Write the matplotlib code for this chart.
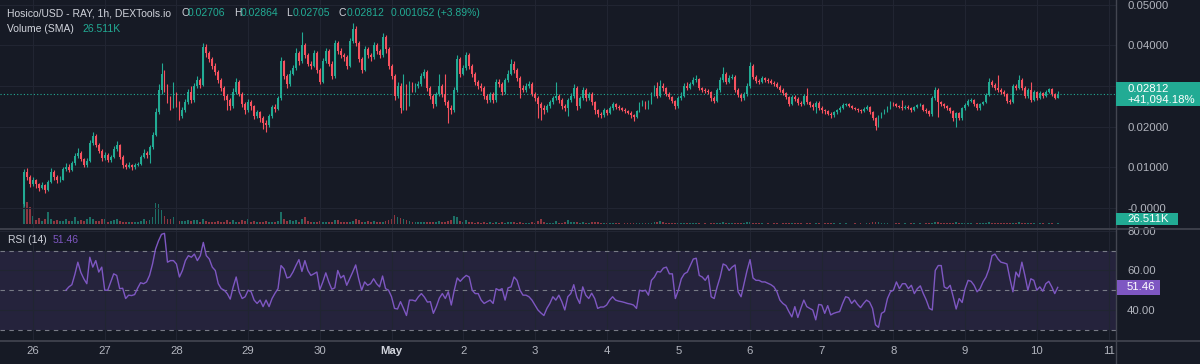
import numpy as np
import matplotlib.pyplot as plt
from matplotlib.patches import Rectangle
from matplotlib.lines import Line2D

# =============================================================================
# Chart data, prices in units of 0.001 USD
# =============================================================================

first_hour = -3          # first candle, hours after 26 Apr 00:00
first_open = 1.0

close = [
    8.8, 7.5, 6.0, 6.8, 5.8, 5.0, 5.6, 4.5, 6.5, 8.8,
    7.6, 6.8, 7.0, 9.5, 10.2, 9.4, 11.0, 12.8, 13.6, 12.0,
    10.5, 11.5, 16.0, 17.8, 15.5, 14.0, 12.2, 13.0, 11.8, 12.5,
    14.5, 15.5, 12.5, 10.5, 10.2, 10.5, 10.0, 10.6, 10.9, 12.5,
    13.5, 13.0, 15.0, 18.0, 23.5, 29.0, 33.0, 30.0, 27.0, 25.0,
    28.0, 26.0, 22.5, 24.0, 26.0, 28.5, 26.5, 30.0, 31.5, 30.2,
    39.5, 38.0, 36.5, 35.0, 33.5, 31.5, 29.5, 27.5, 26.5, 25.0,
    28.5, 31.0, 28.0, 25.5, 24.0, 26.0, 25.0, 22.5, 23.5, 22.0,
    21.0, 20.5, 22.5, 24.8, 24.3, 27.0, 36.0, 32.5, 30.5, 33.0,
    34.5, 38.0, 36.0, 40.0, 37.5, 35.5, 35.0, 38.0, 34.0, 31.0,
    36.0, 38.5, 35.5, 32.5, 40.5, 38.5, 37.5, 37.0, 35.0, 41.0,
    44.0, 40.5, 36.5, 34.0, 39.0, 37.5, 37.0, 40.0, 38.5, 37.5,
    42.0, 39.0, 35.0, 32.5, 27.5, 30.0, 24.5, 30.0, 25.5, 30.5,
    29.0, 30.0, 30.5, 32.5, 33.5, 29.5, 27.5, 25.5, 28.0, 30.0,
    28.0, 26.0, 24.5, 24.0, 29.0, 36.5, 33.0, 34.5, 37.5, 35.0,
    33.0, 31.0, 30.0, 29.5, 27.5, 26.5, 28.0, 26.5, 31.0, 30.5,
    28.5, 31.5, 33.0, 35.5, 34.0, 32.0, 29.5, 29.0, 30.0, 30.5,
    28.0, 27.0, 25.5, 24.5, 24.0, 25.0, 26.0, 27.0, 27.5, 26.5,
    25.0, 24.5, 26.5, 27.5, 29.5, 25.0, 27.0, 29.0, 27.0, 28.0,
    26.0, 24.0, 23.0, 22.8, 24.0, 23.3, 24.5, 25.5, 24.8, 24.5,
    24.2, 23.8, 23.4, 22.8, 22.3, 23.8, 25.5, 26.0, 24.8, 26.0,
    28.0, 29.5, 27.5, 30.0, 29.5, 28.0, 27.3, 26.3, 25.0, 27.0,
    27.5, 30.0, 29.5, 30.5, 31.5, 31.8, 29.5, 29.0, 28.8, 28.5,
    27.0, 26.3, 29.0, 31.5, 33.0, 31.0, 32.0, 32.3, 29.0, 27.8,
    27.0, 28.0, 30.0, 35.0, 32.2, 31.3, 31.0, 32.0, 31.5, 31.2,
    30.8, 30.5, 29.8, 29.0, 28.2, 27.3, 25.5, 27.3, 26.8, 25.8,
    25.5, 27.5, 26.0, 25.3, 24.8, 25.8, 24.6, 24.0, 23.8, 23.2,
    22.8, 23.5, 24.0, 24.6, 25.3, 25.5, 25.0, 24.6, 24.3, 24.0,
    23.8, 24.4, 24.8, 23.6, 22.0, 20.2, 22.5, 23.3, 24.0, 24.6,
    25.8, 25.5, 25.0, 24.8, 24.6, 24.9, 24.6, 24.0, 24.7, 25.2,
    25.4, 24.2, 23.8, 23.0, 27.0, 29.0, 26.0, 25.5, 25.0, 24.6,
    23.8, 22.0, 23.3, 22.0, 24.5, 25.3, 26.3, 26.6, 25.5, 24.5,
    25.5, 26.0, 27.8, 31.0, 30.2, 29.5, 29.0, 28.5, 28.0, 26.3,
    26.0, 30.0, 29.5, 31.5, 29.5, 27.5, 29.0, 26.5, 28.5, 27.0,
    28.3, 27.5, 28.6, 29.2, 28.0, 27.06, 28.12,
]

high = [
    9.6, 9.8, 8.2, 7.6, 7.2, 6.2, 6.3, 6.0, 7.0, 9.8,
    9.3, 8.0, 7.8, 10.2, 11.0, 10.8, 11.6, 13.5, 14.8, 14.0,
    12.4, 12.2, 16.8, 18.8, 18.2, 16.0, 14.5, 13.8, 13.4, 13.0,
    15.2, 16.4, 15.8, 13.0, 11.0, 11.2, 10.9, 11.0, 11.4, 13.0,
    14.4, 14.0, 15.6, 18.8, 24.5, 30.5, 35.6, 33.8, 30.5, 27.5,
    31.0, 28.6, 26.4, 24.8, 26.8, 29.2, 30.0, 30.8, 32.5, 32.0,
    40.5, 40.2, 38.6, 37.0, 35.6, 34.0, 32.0, 30.0, 28.0, 27.0,
    29.5, 32.0, 31.5, 28.5, 26.0, 26.8, 26.5, 25.4, 24.2, 23.8,
    22.5, 21.6, 23.0, 25.4, 25.5, 27.6, 37.0, 36.4, 33.0, 33.8,
    35.2, 39.2, 38.6, 43.2, 40.6, 38.0, 36.2, 38.8, 38.5, 34.5,
    36.8, 39.4, 39.0, 36.0, 41.4, 41.0, 39.2, 38.2, 37.5, 41.8,
    45.4, 44.6, 41.0, 37.0, 39.8, 39.6, 38.2, 40.8, 40.6, 39.0,
    43.0, 42.6, 39.5, 35.5, 33.0, 31.0, 30.6, 33.0, 30.4, 31.2,
    31.0, 30.8, 31.2, 33.2, 34.2, 34.0, 30.0, 28.0, 28.6, 33.0,
    30.5, 33.0, 26.5, 25.2, 29.8, 37.5, 37.0, 35.2, 38.3, 38.0,
    35.5, 33.5, 31.5, 30.6, 30.0, 28.0, 28.6, 28.4, 31.6, 31.8,
    31.0, 32.0, 33.8, 36.5, 36.0, 34.5, 32.4, 30.2, 30.6, 31.2,
    31.0, 28.6, 27.4, 26.0, 25.2, 25.6, 26.6, 27.6, 31.0, 28.0,
    27.0, 25.6, 27.0, 28.2, 30.5, 30.0, 27.6, 29.8, 29.4, 28.6,
    28.4, 26.4, 24.4, 23.6, 24.6, 24.4, 25.0, 26.0, 25.8, 25.2,
    24.9, 24.6, 24.2, 23.8, 23.2, 24.2, 26.0, 26.6, 26.4, 26.6,
    28.6, 30.2, 31.0, 31.5, 30.6, 29.8, 28.4, 27.6, 26.6, 27.6,
    28.4, 30.6, 31.0, 31.0, 32.2, 32.6, 32.0, 29.8, 29.4, 29.2,
    28.8, 27.4, 29.5, 32.2, 34.6, 33.4, 32.6, 33.0, 32.6, 29.4,
    28.2, 28.5, 30.6, 35.8, 35.4, 32.6, 31.8, 32.5, 32.3, 31.9,
    31.6, 31.2, 30.9, 30.2, 29.4, 28.6, 27.6, 27.8, 27.8, 27.2,
    26.3, 28.0, 29.5, 26.4, 25.7, 26.2, 26.2, 25.0, 24.4, 24.2,
    23.6, 23.8, 24.4, 25.0, 25.7, 25.9, 25.9, 25.3, 24.9, 24.6,
    24.3, 24.8, 25.2, 25.0, 23.9, 22.4, 22.9, 23.7, 24.4, 25.0,
    26.2, 26.1, 25.8, 25.3, 26.5, 25.3, 25.2, 24.9, 25.0, 25.6,
    25.8, 25.6, 24.5, 24.1, 27.4, 29.8, 29.4, 26.4, 25.9, 25.3,
    24.9, 24.1, 23.7, 23.6, 24.9, 25.7, 26.7, 27.0, 26.9, 25.8,
    25.9, 26.4, 28.2, 32.0, 31.4, 30.6, 32.7, 29.4, 28.9, 28.3,
    26.7, 30.5, 30.4, 32.7, 31.9, 29.9, 29.4, 31.0, 28.9, 28.8,
    28.7, 28.6, 29.0, 29.6, 29.5, 28.3, 28.64,
]

low = [
    0.5, 6.8, 5.2, 5.5, 5.0, 4.3, 4.6, 3.8, 4.2, 6.2,
    7.0, 6.2, 6.4, 6.8, 9.0, 8.8, 9.2, 10.6, 12.3, 11.5,
    10.0, 10.2, 11.2, 15.5, 15.0, 13.5, 11.6, 11.8, 11.2, 11.4,
    12.2, 14.0, 12.0, 9.8, 9.6, 9.8, 9.4, 9.7, 10.3, 10.6,
    12.2, 12.4, 11.0, 14.6, 17.6, 23.0, 28.0, 28.5, 25.8, 24.0,
    24.6, 24.8, 21.6, 22.0, 23.6, 25.6, 25.8, 26.0, 29.5, 29.5,
    30.0, 37.2, 35.8, 34.2, 32.8, 30.8, 28.8, 26.5, 24.0, 24.2,
    24.6, 28.0, 27.5, 24.8, 23.2, 23.6, 24.2, 21.8, 22.0, 21.2,
    19.5, 18.8, 20.0, 22.2, 23.6, 24.0, 26.6, 31.8, 29.6, 30.0,
    32.6, 34.0, 35.2, 35.6, 36.8, 34.8, 34.2, 34.6, 33.2, 30.4,
    30.6, 35.6, 34.8, 31.6, 32.0, 37.8, 36.8, 36.2, 34.2, 34.6,
    40.6, 39.8, 35.8, 33.2, 33.6, 36.8, 36.2, 36.6, 37.8, 36.8,
    37.0, 38.2, 34.2, 31.6, 26.6, 27.0, 23.3, 24.0, 24.0, 25.0,
    28.4, 28.6, 29.6, 30.0, 32.0, 28.8, 26.8, 24.6, 25.0, 27.6,
    27.2, 25.4, 21.0, 23.0, 23.6, 28.6, 32.2, 32.6, 34.0, 34.2,
    32.2, 30.2, 29.2, 28.8, 26.8, 25.8, 26.0, 25.8, 26.0, 29.8,
    27.8, 28.0, 31.0, 32.6, 33.2, 31.2, 27.0, 28.4, 28.6, 29.6,
    27.4, 26.2, 22.0, 21.6, 23.2, 23.6, 24.6, 25.6, 26.6, 25.8,
    24.4, 23.8, 22.5, 26.0, 27.0, 24.2, 24.6, 26.6, 26.4, 26.6,
    25.4, 23.2, 22.4, 22.0, 22.4, 22.8, 23.0, 24.2, 24.4, 24.0,
    23.8, 23.4, 23.0, 22.2, 21.5, 22.0, 23.5, 25.0, 24.4, 24.4,
    25.6, 27.6, 27.0, 27.2, 28.8, 27.6, 26.8, 25.8, 24.4, 24.6,
    26.6, 27.2, 29.0, 29.2, 30.2, 31.0, 29.0, 28.5, 28.3, 28.0,
    26.2, 25.8, 26.0, 28.6, 31.0, 30.4, 30.6, 31.6, 28.4, 27.2,
    26.4, 26.6, 27.6, 29.6, 31.6, 30.8, 30.4, 30.6, 31.0, 30.8,
    30.4, 30.0, 29.4, 28.6, 27.8, 26.8, 25.0, 25.2, 26.2, 25.3,
    25.0, 25.2, 25.6, 24.8, 24.2, 23.4, 24.0, 23.4, 23.2, 22.8,
    22.2, 22.4, 23.2, 23.7, 24.3, 25.0, 24.7, 24.3, 24.0, 23.6,
    23.4, 23.5, 24.1, 23.2, 21.6, 19.2, 19.8, 22.2, 23.0, 23.7,
    24.3, 25.1, 24.7, 24.5, 24.2, 24.4, 24.3, 23.7, 23.8, 24.5,
    25.0, 23.9, 23.4, 22.6, 22.6, 26.6, 22.4, 25.0, 24.5, 24.1,
    23.3, 21.5, 20.0, 21.6, 21.7, 24.2, 25.0, 26.0, 25.1, 24.1,
    24.2, 25.2, 25.7, 27.5, 29.8, 29.0, 28.6, 28.0, 27.5, 25.8,
    25.5, 25.7, 29.0, 29.2, 29.0, 27.0, 27.1, 26.0, 26.2, 26.6,
    26.8, 27.1, 27.3, 28.3, 27.6, 26.8, 27.05,
]

# Volume in thousands
volume = [
    92, 85, 66, 30, 15, 22, 12, 18, 47, 20,
    12, 15, 10, 12, 18, 10, 12, 28, 12, 15,
    10, 20, 28, 18, 12, 10, 20, 21, 8, 11,
    15, 18, 12, 8, 6, 9, 7, 6, 8, 12,
    21, 10, 14,
    25, 78, 75, 55, 32, 20, 18, 25, 14, 12,
    11, 10, 15, 12, 15, 14, 9, 18, 10, 8,
    9, 7, 11, 8, 9, 14, 8, 15, 9, 7,
    14, 10, 21, 9, 11, 6, 8, 9, 10, 7,
    9, 8, 11,
    47, 18, 12, 14, 11, 15, 9, 18, 26, 10,
    8, 9, 7, 10, 8, 6, 7, 9, 14, 15,
    7, 6, 8, 9, 12, 18, 16, 9, 8, 10,
    7, 11, 8, 9, 8, 10, 14, 20, 36, 28,
    24, 20, 16, 12,
    8, 6, 7, 9, 8, 6, 7, 9, 8, 10,
    8, 9, 11, 15, 30, 28, 12, 8, 14, 7,
    6, 5, 6, 5, 7, 5, 6, 4, 7, 5,
    6, 5, 6, 9, 6, 5, 7, 5, 4, 5,
    6, 5, 12,
    19, 8, 5, 4, 5, 10, 4, 5, 6, 17,
    6, 7, 9, 5, 6, 4, 5, 6, 8, 6,
    5, 4, 3, 4, 3, 3, 3, 2, 3, 3,
    3, 4, 3, 4, 3, 3, 4, 5, 7, 9,
    10, 6, 4, 3,
    3, 3, 4, 3, 4, 3, 3, 4, 3, 3,
    2, 3, 2, 3, 3, 4, 5, 8, 4, 3,
    3, 3, 3, 4, 4, 8, 6, 4, 3, 3,
    3, 2, 3, 2, 3, 3, 2, 3, 3, 4,
    3, 3, 4,
    3, 2, 4, 3, 2, 3, 3, 2, 3, 3,
    4, 3, 2, 3, 2, 3, 2, 2, 3, 2,
    3, 2, 3, 3, 7, 9, 7, 4, 3, 3,
    2, 3, 4, 3, 2, 3, 2, 3, 3, 2,
    3, 2, 3, 3,
    5, 7, 6, 4, 3, 3, 3, 4, 6, 3,
    3, 4, 3, 3, 2, 3, 3, 4, 5, 7,
    4, 3, 4, 3, 3, 3, 3, 5, 4, 6,
    3, 4, 3, 4, 3, 2, 3, 3, 2, 3,
    3, 2, 3,
]

rsi = [
    50.0, 51.7, 52.8, 58.0, 64.2, 59.0, 55.8, 53.3, 66.7, 61.7,
    65.0, 59.2, 61.7, 50.0, 50.0, 54.2, 58.3, 57.5, 50.8, 51.0,
    45.8, 47.5, 47.3, 47.8, 51.0, 53.8, 53.3, 54.2, 57.5, 63.3,
    70.8, 75.0, 78.3, 78.8, 64.2, 65.0, 65.0, 63.3, 56.7, 60.0,
    65.0, 67.5, 66.7, 68.3, 65.0, 67.5, 74.2, 67.5, 65.8, 61.7,
    60.0, 53.3, 50.8, 50.0, 48.3, 45.5, 51.7, 56.7, 49.2, 45.8,
    46.7, 50.0, 49.2, 45.0, 43.3, 45.0, 41.7, 45.0, 41.7, 45.8,
    48.5, 50.8, 62.5, 60.8, 56.2, 56.7, 59.2, 62.5, 65.5, 59.5,
    65.0, 60.0, 57.5, 58.3, 59.2, 50.3, 54.2, 58.8, 54.2, 50.5,
    51.2, 60.0, 56.2, 57.5, 52.5, 55.8, 59.2, 62.8, 55.8, 50.0,
    54.2, 52.5, 53.3, 55.8, 53.3, 51.7, 57.2, 50.8, 50.0, 46.7,
    40.8, 40.5, 44.2, 40.8, 37.2, 45.0, 45.0, 44.5, 46.7, 48.3,
    46.5, 44.0, 44.2, 38.3, 41.7, 46.0, 48.3, 45.8, 49.2, 42.5,
    50.0, 56.2, 54.5, 56.2, 57.5, 56.7, 50.0, 48.3, 48.3, 45.0,
    43.3, 44.2, 45.0, 43.3, 50.8, 50.0, 50.8, 45.0, 51.2, 51.7,
    56.7, 55.0, 50.0, 47.5, 47.5, 46.7, 45.0, 42.5, 40.0, 38.5,
    37.2, 40.8, 43.3, 46.7, 45.0, 47.5, 44.2, 40.0, 46.7, 48.3,
    52.8, 46.5, 43.3, 51.7, 47.5, 45.8, 48.5, 45.8, 40.8, 41.5,
    41.5, 42.5, 45.0, 46.7, 45.0, 44.5, 44.2, 43.8, 43.3, 43.0,
    42.5, 40.8, 50.0, 49.5, 50.0, 47.5, 55.0, 56.7, 59.5, 59.2,
    61.2, 61.7, 58.3, 58.3, 45.8, 50.0, 55.8, 58.3, 59.2, 62.5,
    65.8, 66.2, 57.5, 56.7, 55.0, 57.5, 46.7, 45.8, 51.7, 56.7,
    63.3, 62.5, 60.0, 61.7, 62.8, 49.2, 46.7, 53.3, 60.0, 65.5,
    56.2, 55.0, 55.0, 54.2, 54.2, 53.5, 52.8, 51.7, 49.2, 45.0,
    43.3, 42.2, 39.2, 36.5, 41.7, 36.2, 40.8, 45.0, 41.7, 40.8,
    40.0, 35.0, 42.8, 42.5, 38.3, 42.2, 37.5, 38.3, 38.8, 39.2,
    43.3, 46.7, 46.2, 43.3, 45.0, 42.8, 41.2, 43.3, 45.0, 44.0,
    40.8, 32.5, 31.2, 38.3, 39.2, 45.8, 49.2, 50.0, 54.2, 50.8,
    53.3, 53.3, 50.8, 52.5, 48.3, 50.8, 52.2, 48.3, 45.0, 40.8,
    40.0, 60.0, 62.5, 62.5, 51.7, 50.8, 52.5, 46.7, 40.5, 45.8,
    43.8, 50.8, 55.0, 54.5, 52.5, 49.2, 50.8, 54.2, 56.7, 60.8,
    67.5, 68.3, 65.8, 64.2, 63.8, 63.3, 55.8, 49.2, 59.2, 56.7,
    64.2, 57.5, 50.0, 55.8, 55.0, 50.0, 51.7, 49.5, 53.3, 54.5,
    51.7, 48.3, 51.46,
]

day_labels = ['26', '27', '28', '29', '30', 'May', '2', '3', '4', '5',
              '6', '7', '8', '9', '10', '11']
price_ticks = [0.0, 0.01, 0.02, 0.03, 0.04, 0.05]
price_tick_labels = ['-0.0000', '0.01000', '0.02000', '0.03000',
                     '0.04000', '0.05000']
rsi_ticks = [40, 60, 80]

last_close = 0.02812
vol_sma = 26.511

# =============================================================================
# Derived arrays
# =============================================================================

close = np.array(close) / 1000
high = np.array(high) / 1000
low = np.array(low) / 1000
volume = np.array(volume, dtype=float)
rsi = np.array(rsi)
opn = np.r_[first_open / 1000, close[:-1]]
hours = np.arange(first_hour, first_hour + len(close))
rsi_hours = hours[-len(rsi):]
day_hours = np.arange(len(day_labels)) * 24
up = close >= opn

# =============================================================================
# Style
# =============================================================================

W, H = 1200, 364
bg = '#161a25'
grid_c = '#212532'
txt = '#b2b5be'
green = '#22ab94'
red = '#f7525f'
purple = '#7e57c2'
plt.rcParams['font.family'] = ['Liberation Sans', 'DejaVu Sans']


def fx(x):
    return x / W


def fy(y):
    return 1 - y / H


fig = plt.figure(figsize=(W / 100, H / 100), dpi=100, facecolor=bg)

xlim = (-11.06, 362.5)
ax = fig.add_axes([0, fy(228), fx(1116), 228 / H])
axr = fig.add_axes([0, fy(340), fx(1116), 111 / H])

# volume overlay sits behind the candles at the bottom of the price panel
axv = ax.twinx()
axv.set_zorder(0)
ax.set_zorder(1)
ax.patch.set_visible(False)
axv.patch.set_visible(True)
axv.patch.set_facecolor(bg)
axv.set_ylim(-15, 849)
axv.set_xlim(*xlim)
axv.set_xticks([])
axv.set_yticks([])
for s in axv.spines.values():
    s.set_visible(False)
vcols = np.where(up, '#1d6f66', '#8f3640')
axv.bar(hours, volume, width=0.62, color=vcols, lw=0)

for a in (ax, axr):
    a.set_facecolor(bg)
    a.set_xlim(*xlim)
    for s in a.spines.values():
        s.set_visible(False)
    a.set_xticks(day_hours)
    a.grid(True, color=grid_c, lw=0.8)
    a.set_axisbelow(True)
    a.yaxis.tick_right()
    a.yaxis.set_label_position('right')
    a.tick_params(axis='y', left=False, labelleft=False, right=False,
                  labelright=True, length=0, pad=8, colors=txt,
                  labelsize=8.2)
    a.tick_params(axis='x', length=0)

# =============================================================================
# Price panel
# =============================================================================

ax.set_ylim(-0.00491, 0.05111)
ax.set_yticks(price_ticks)
ax.set_yticklabels(price_tick_labels)
ax.tick_params(axis='x', labelbottom=False)

cols = np.where(up, green, red)
ax.vlines(hours, low, high, colors=cols, lw=0.8, zorder=3)
body_lo = np.minimum(opn, close)
body_h = np.maximum(np.abs(close - opn), 0.00006)
ax.bar(hours, body_h, bottom=body_lo, width=0.62, color=cols, lw=0, zorder=4)

ax.axhline(last_close, color=green, lw=0.8, ls=(0, (1, 2)), zorder=2)

# =============================================================================
# RSI panel
# =============================================================================

axr.set_ylim(24.8, 81.0)
axr.set_yticks(rsi_ticks)
axr.set_yticklabels(['%.2f' % v for v in rsi_ticks])
axr.axhspan(30, 70, color=purple, alpha=0.15, lw=0, zorder=0)
for lev in (30, 50, 70):
    axr.axhline(lev, color='#787b86', lw=0.8, ls=(0, (4, 4)), zorder=2)
axr.plot(rsi_hours, rsi, color=purple, lw=1.0, zorder=3)

axr.set_xticks(day_hours)
axr.set_xticklabels(day_labels)
axr.tick_params(axis='x', colors=txt, labelsize=8.2, pad=4)
for lab in axr.get_xticklabels():
    if lab.get_text() == 'May':
        lab.set_fontweight('bold')
        lab.set_color('#d1d4dc')

# =============================================================================
# Separators, legends and badges
# =============================================================================

sep = '#434651'
fig.add_artist(Line2D([0, 1], [fy(228.5), fy(228.5)], color=sep, lw=1.2))
fig.add_artist(Line2D([0, 1], [fy(340.5), fy(340.5)], color=sep, lw=1.2))
fig.add_artist(Line2D([fx(1116), fx(1116)], [0, 1], color=sep, lw=1.0))


def label(x, y, s, c=txt, size=7.5, **kw):
    fig.text(fx(x), fy(y), s, color=c, fontsize=size, va='center',
             ha='left', **kw)


label(7, 13, 'Hosico/USD - RAY, 1h, DEXTools.io', c='#d1d4dc')
label(181, 13, 'O', c='#d1d4dc')
label(188, 13, '0.02706', c=green)
label(234, 13, 'H', c='#d1d4dc')
label(241, 13, '0.02864', c=green)
label(286, 13, 'L', c='#d1d4dc')
label(293, 13, '0.02705', c=green)
label(339, 13, 'C', c='#d1d4dc')
label(347, 13, '0.02812', c=green)
label(391, 13, '0.001052 (+3.89%)', c=green)
label(7, 29, 'Volume (SMA)', c='#d1d4dc')
label(82, 29, '%.3fK' % vol_sma, c=green)
label(8, 240, 'RSI (14)', c='#d1d4dc')
label(53, 240, '%.2f' % rsi[-1], c=purple)


def badge(x0, x1, y0, y1, color):
    fig.add_artist(Rectangle((fx(x0), fy(y1)), (x1 - x0) / W, (y1 - y0) / H,
                             transform=fig.transFigure, color=color, lw=0,
                             zorder=5))


badge(1116, 1200, 82, 106, green)
label(1127, 88.5, '%.5f' % last_close, c='white', size=8.2, zorder=6)
label(1127, 100, '+41,094.18%', c='white', size=8.2, zorder=6)
badge(1116, 1178, 212.5, 225, green)
label(1127, 218.5, '%.3fK' % vol_sma, c='white', size=8.2, zorder=6)
badge(1117, 1160, 280, 295, purple)
label(1127, 287.5, '%.2f' % rsi[-1], c='white', size=8.2, zorder=6)

fig.savefig('out.png', dpi=100, facecolor=bg)
